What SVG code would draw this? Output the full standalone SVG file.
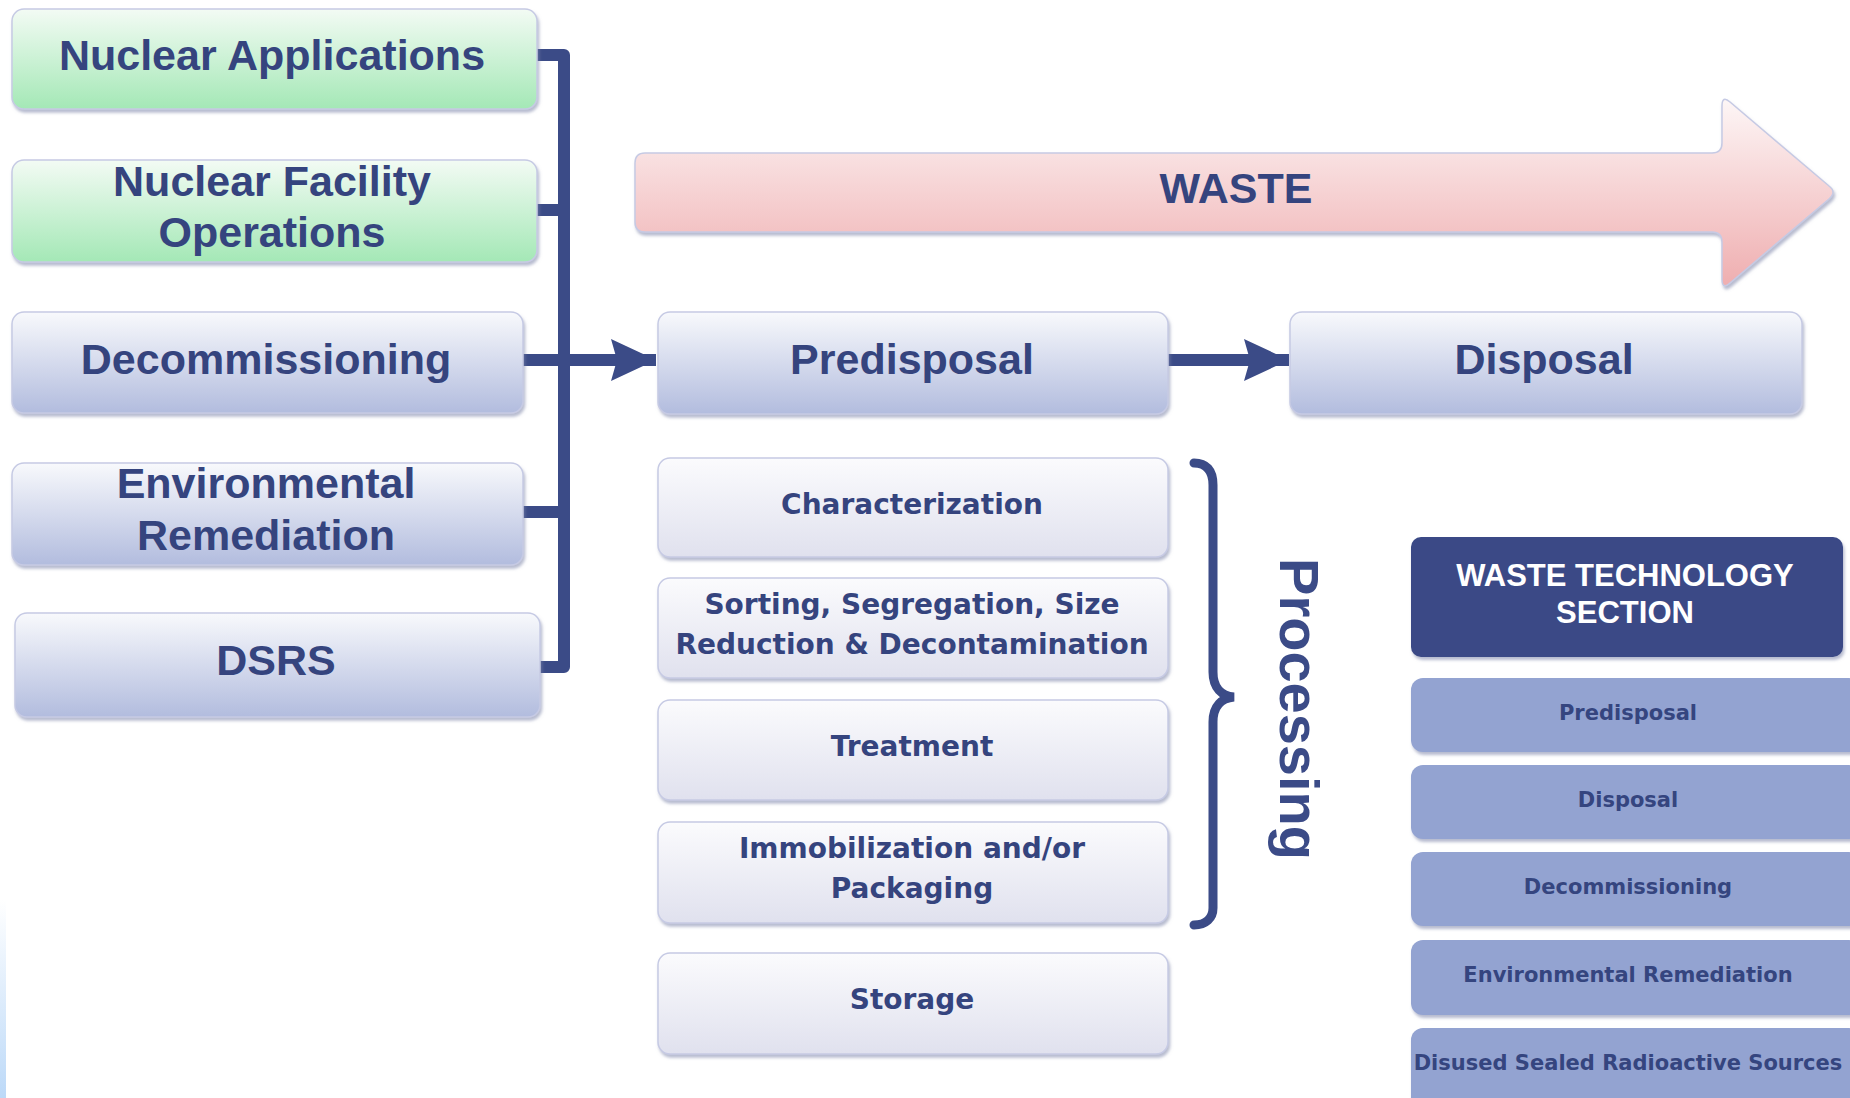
<svg xmlns="http://www.w3.org/2000/svg" width="1850" height="1098" viewBox="0 0 1850 1098">
<style>
.bx{stroke:#c6cae4;stroke-width:1.5;filter:url(#sh)}
.t43{font-family:"Liberation Sans",Arial,sans-serif;font-weight:bold;font-size:43px;fill:#35447e;text-anchor:middle}
.t28{font-family:"DejaVu Sans",Verdana,sans-serif;font-weight:bold;font-size:28px;fill:#35447e;text-anchor:middle}
.t21{font-family:"DejaVu Sans",Verdana,sans-serif;font-weight:bold;font-size:21px;fill:#35457f;text-anchor:middle}
.tw{font-family:"Liberation Sans",Arial,sans-serif;font-weight:bold;font-size:31px;fill:#ffffff;text-anchor:middle}
.con{fill:none;stroke:#3b4b87;stroke-width:12}
.ri{fill:#93a3d1;filter:url(#sh)}
</style>
<defs>
<linearGradient id="gGreen" x1="0" y1="0" x2="0" y2="1"><stop offset="0" stop-color="#f3fbf4"/><stop offset="1" stop-color="#a4e8b6"/></linearGradient>
<linearGradient id="gBlue" x1="0" y1="0" x2="0" y2="1"><stop offset="0" stop-color="#f8f9fc"/><stop offset="1" stop-color="#b2bcde"/></linearGradient>
<linearGradient id="gLight" x1="0" y1="0" x2="0" y2="1"><stop offset="0" stop-color="#fbfbfd"/><stop offset="1" stop-color="#e0e1ee"/></linearGradient>
<linearGradient id="gPink" x1="0" y1="0" x2="0" y2="1"><stop offset="0" stop-color="#fdf6f6"/><stop offset="1" stop-color="#efaeb0"/></linearGradient>
<linearGradient id="gStrip" x1="0" y1="0" x2="0" y2="1"><stop offset="0" stop-color="#ffffff"/><stop offset="1" stop-color="#bcd9f8"/></linearGradient>
<filter id="sh" x="-5%" y="-10%" width="110%" height="130%"><feDropShadow dx="1.5" dy="3" stdDeviation="1.5" flood-color="#7c84a8" flood-opacity="0.55"/></filter>
<marker id="ah" markerUnits="userSpaceOnUse" markerWidth="46" markerHeight="44" refX="45" refY="22" orient="auto"><path d="M0,1 L45,22 L0,43 L6,22 Z" fill="#3b4b87"/></marker>
</defs>
<rect x="0" y="0" width="1850" height="1098" fill="#ffffff"/>
<rect x="0" y="900" width="6" height="198" fill="url(#gStrip)"/>

<g id="connectors">
<path class="con" d="M537,55 H564 V667 H539" stroke-linejoin="round"/>
<path class="con" d="M537,210 H564"/>
<path class="con" d="M523,512 H564"/>
<path class="con" d="M523,360 H656" marker-end="url(#ah)"/>
<path class="con" d="M1168,360 H1289" marker-end="url(#ah)"/>
<path fill="none" stroke="#3b4b87" stroke-width="9" stroke-linecap="round" d="M1194,463 C1206,463 1213,470 1213,485 V672 C1213,688 1222,696 1234,697 C1222,698 1213,706 1213,722 V908 C1213,918 1206,925 1194,925"/>
</g>

<g id="waste">
<path class="bx" fill="url(#gPink)" d="M645,153 H1712 Q1722,153 1722,143 V106 Q1722,95 1730,102 L1829,186 Q1837,192 1829,199 L1730,283 Q1722,290 1722,279 V242 Q1722,232 1712,232 H645 Q635,232 635,222 V163 Q635,153 645,153 Z"/>
<text class="t43" x="1236" y="203">WASTE</text>
</g>

<g id="nuclear-applications">
<rect class="bx" x="12" y="9" width="525" height="100" rx="12" fill="url(#gGreen)"/>
<text class="t43" x="272" y="70">Nuclear Applications</text>
</g>
<g id="nuclear-facility-operations">
<rect class="bx" x="12" y="160" width="525" height="102" rx="12" fill="url(#gGreen)"/>
<text class="t43" x="272" y="196">Nuclear Facility</text>
<text class="t43" x="272" y="247">Operations</text>
</g>
<g id="decommissioning">
<rect class="bx" x="12" y="312" width="511" height="101" rx="12" fill="url(#gBlue)"/>
<text class="t43" x="266" y="374">Decommissioning</text>
</g>
<g id="environmental-remediation">
<rect class="bx" x="12" y="463" width="511" height="102" rx="12" fill="url(#gBlue)"/>
<text class="t43" x="266" y="498">Environmental</text>
<text class="t43" x="266" y="550">Remediation</text>
</g>
<g id="dsrs">
<rect class="bx" x="15" y="613" width="525" height="104" rx="12" fill="url(#gBlue)"/>
<text class="t43" x="276" y="675">DSRS</text>
</g>

<g id="predisposal">
<rect class="bx" x="658" y="312" width="510" height="102" rx="12" fill="url(#gBlue)"/>
<text class="t43" x="912" y="374">Predisposal</text>
</g>
<g id="disposal">
<rect class="bx" x="1290" y="312" width="512" height="102" rx="12" fill="url(#gBlue)"/>
<text class="t43" x="1544" y="374">Disposal</text>
</g>

<g id="characterization">
<rect class="bx" x="658" y="458" width="510" height="99" rx="12" fill="url(#gLight)"/>
<text class="t28" x="912" y="514">Characterization</text>
</g>
<g id="sorting">
<rect class="bx" x="658" y="578" width="510" height="100" rx="12" fill="url(#gLight)"/>
<text class="t28" x="912" y="614">Sorting, Segregation, Size</text>
<text class="t28" x="912" y="654">Reduction &amp; Decontamination</text>
</g>
<g id="treatment">
<rect class="bx" x="658" y="700" width="510" height="100" rx="12" fill="url(#gLight)"/>
<text class="t28" x="912" y="756">Treatment</text>
</g>
<g id="immobilization">
<rect class="bx" x="658" y="822" width="510" height="101" rx="12" fill="url(#gLight)"/>
<text class="t28" x="912" y="858">Immobilization and/or</text>
<text class="t28" x="912" y="898">Packaging</text>
</g>
<g id="storage">
<rect class="bx" x="658" y="953" width="510" height="101" rx="12" fill="url(#gLight)"/>
<text class="t28" x="912" y="1009">Storage</text>
</g>

<g id="processing">
<text transform="translate(1280,709) rotate(90)" font-family="Liberation Sans, Arial, sans-serif" font-weight="bold" font-size="56" fill="#3b4b87" text-anchor="middle">Processing</text>
</g>

<g id="wts-title">
<rect x="1411" y="537" width="432" height="120" rx="10" fill="#3a4a86" filter="url(#sh)"/>
<text class="tw" x="1625" y="586">WASTE TECHNOLOGY</text>
<text class="tw" x="1625" y="623">SECTION</text>
</g>
<g id="wts-predisposal">
<rect class="ri" x="1411" y="678" width="450" height="74" rx="12"/>
<text class="t21" x="1628" y="720">Predisposal</text>
</g>
<g id="wts-disposal">
<rect class="ri" x="1411" y="765" width="450" height="74" rx="12"/>
<text class="t21" x="1628" y="807">Disposal</text>
</g>
<g id="wts-decommissioning">
<rect class="ri" x="1411" y="852" width="450" height="74" rx="12"/>
<text class="t21" x="1628" y="894">Decommissioning</text>
</g>
<g id="wts-environmental">
<rect class="ri" x="1411" y="940" width="450" height="75" rx="12"/>
<text class="t21" x="1628" y="982">Environmental Remediation</text>
</g>
<g id="wts-dsrs">
<rect class="ri" x="1411" y="1028" width="450" height="90" rx="12"/>
<text class="t21" x="1628" y="1070">Disused Sealed Radioactive Sources</text>
</g>
</svg>
